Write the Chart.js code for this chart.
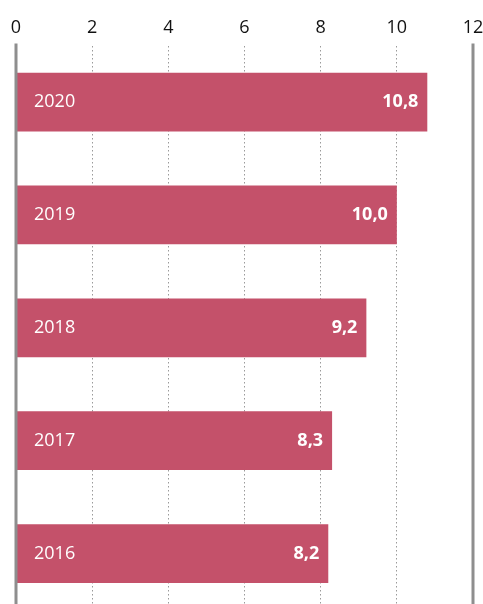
<!DOCTYPE html>
<html>
<head>
<meta charset="utf-8">
<script src="https://cdn.jsdelivr.net/npm/chart.js@4.4.1/dist/chart.umd.min.js"></script>
<style>
    html, body { margin: 0; padding: 0; background: #fff; overflow: hidden; }
    #wrap { position: relative; width: 483px; height: 612px; }
</style>
</head>
<body>
<div id="wrap"><canvas id="grafica"></canvas></div>
<script>
// Datos
const anios = ['2020', '2019', '2018', '2017', '2016'];
const valores = [10.8, 10.0, 9.2, 8.3, 8.2];
const ticksX = [0, 2, 4, 6, 8, 10, 12];

const colorBarra = '#c4516a';
const colorLinea = '#8e8e8e';
const fuente = "'Open Sans', 'Noto Sans', sans-serif";

// Lineas solidas en 0 y 12, y etiquetas dentro de las barras
const etiquetasPlugin = {
    id: 'etiquetas',
    afterDatasetsDraw(chart) {
        const ctx = chart.ctx;
        const area = chart.chartArea;
        const x = chart.scales.x;
        ctx.save();
        ctx.strokeStyle = colorLinea;
        ctx.lineWidth = 3;
        [ticksX[0], ticksX[ticksX.length - 1]].forEach(v => {
            const px = x.getPixelForValue(v);
            ctx.beginPath();
            ctx.moveTo(px, area.top - 2);
            ctx.lineTo(px, chart.height);
            ctx.stroke();
        });

        const meta = chart.getDatasetMeta(0);
        ctx.fillStyle = '#fff';
        ctx.textBaseline = 'middle';
        meta.data.forEach((bar, i) => {
            ctx.font = '18px ' + fuente;
            ctx.textAlign = 'left';
            ctx.fillText(anios[i], bar.base + 18, bar.y);
            ctx.font = 'bold 18px ' + fuente;
            ctx.textAlign = 'right';
            ctx.fillText(valores[i].toFixed(1).replace('.', ','), bar.x - 9, bar.y);
        });
        ctx.restore();
    }
};

var canvas = document.getElementById('grafica');
if (canvas) {
    var ctx = canvas.getContext('2d');
    new Chart(ctx, {
        type: 'bar',
        data: {
            labels: anios,
            datasets: [{
                data: valores,
                backgroundColor: colorBarra,
                borderWidth: 0,
                categoryPercentage: 1,
                barPercentage: 0.52
            }]
        },
        options: {
            indexAxis: 'y',
            responsive: true,
            maintainAspectRatio: false,
            animation: false,
            layout: { padding: { left: 8, right: 10, top: 10, bottom: 2 } },
            plugins: {
                legend: { display: false },
                tooltip: { enabled: false }
            },
            scales: {
                x: {
                    position: 'top',
                    min: 0,
                    max: 12,
                    afterBuildTicks: axis => {
                        axis.ticks = ticksX.map(v => ({ value: v }));
                    },
                    afterFit: axis => {
                        axis.paddingRight = 0;
                    },
                    ticks: {
                        color: '#111',
                        padding: 7,
                        font: { family: fuente, size: 18 }
                    },
                    grid: {
                        drawTicks: false,
                        color: '#9a9a9a',
                        lineWidth: c => (c.tick && (c.tick.value === 0 || c.tick.value === 12)) ? 0 : 1
                    },
                    border: { display: false, dash: [1.5, 2.5] }
                },
                y: {
                    ticks: { display: false },
                    grid: { display: false },
                    border: { display: false }
                }
            }
        },
        plugins: [etiquetasPlugin]
    });
}
</script>
</body>
</html>
